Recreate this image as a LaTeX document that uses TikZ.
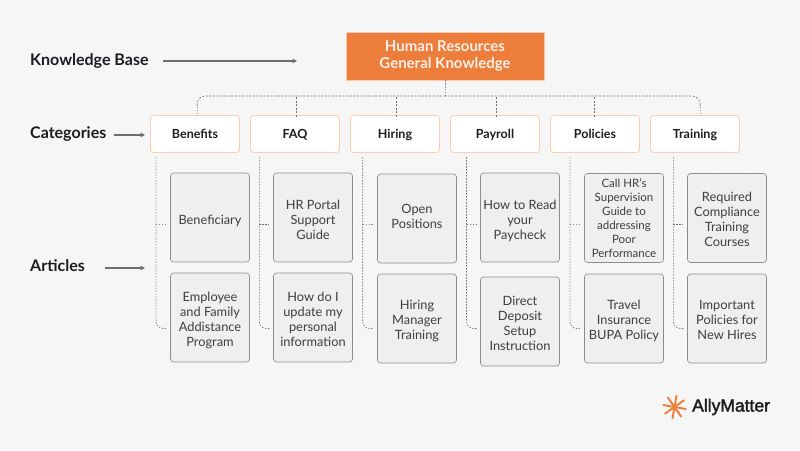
\documentclass[tikz,border=0pt]{standalone}
\usepackage{fontspec}
\setmainfont{Lato}
\newfontfamily\logofont[FakeBold=2]{Liberation Sans}
\usetikzlibrary{arrows.meta,calc}
\definecolor{bgc}{HTML}{F6F6F6}
\definecolor{dotc}{HTML}{EBEBEB}
\definecolor{orangec}{HTML}{ED7D3B}
\definecolor{peachc}{HTML}{FBCDB2}
\definecolor{artc}{HTML}{EFEFEF}
\definecolor{artl}{HTML}{8C8C8C}
\definecolor{linec}{HTML}{6E6E6E}
\definecolor{inkc}{HTML}{1C1C22}
\newcommand\lowertext[1]{\rule{0pt}{\dimexpr 9.2pt+2\dimexpr #1pt\relax\relax}}
\tikzset{
  rootbox/.style={fill=orangec,draw=white!60!orangec,line width=.6pt,minimum width=198pt,minimum height=48pt,align=center,text=white!88!orangec,font=\fontsize{15}{17}\selectfont\bfseries,inner sep=0pt},
  catbox/.style={fill=white,draw=peachc,line width=.9pt,rounded corners=3pt,minimum width=89pt,minimum height=37pt,inner sep=0pt,text=inkc,text height=10.5pt,text depth=1.5pt,font=\fontsize{12.5}{15}\selectfont\bfseries},
  artbox/.style={fill=artc,draw=artl,line width=.6pt,rounded corners=3pt,minimum width=79pt,minimum height=89pt,inner sep=0pt,align=center,text=inkc!85,font=\fontsize{12.8}{15}\selectfont},
  rowlabel/.style={anchor=west,inner sep=0pt,text=inkc,font=\fontsize{16}{18}\selectfont\bfseries},
  conn/.style={draw=linec,line width=.6pt,dash pattern=on 2pt off 1.6pt},
  lightconn/.style={draw=artl,line width=.95pt,dash pattern=on 1.4pt off 1.5pt},
  darkconn/.style={draw=linec,line width=.6pt,dash pattern=on 1.6pt off 1.4pt},
  pointer/.style={draw=linec,line width=1.2pt,-{Triangle[length=4.5pt,width=4.5pt]}}
}
\begin{document}
\begin{tikzpicture}[x=1pt,y=-1pt]
\useasboundingbox (0,0) rectangle (800,450);
\fill[bgc] (0,0) rectangle (800,450);
\foreach \i in {0,...,72}{\foreach \j in {0,...,40}{
  \fill[dotc] (5+11*\i,6+11*\j) circle (.5pt);}}
% root
\node[rootbox] (root) at (445,56) {Human Resources\\General Knowledge};
% categories
\node[catbox] (c1) at (195,134) {Benefits};
\node[catbox] (c2) at (295,134) {FAQ};
\node[catbox] (c3) at (395,134) {Hiring};
\node[catbox] (c4) at (495,134) {Payroll};
\node[catbox] (c5) at (595,134) {Policies};
\node[catbox] (c6) at (695,134) {Training};
% articles
\node[artbox] (a1) at (210,217.5) {\lowertext{3}Beneficiary};
\node[artbox] (b1) at (210,317.5) {\lowertext{3}Employee\\and Family\\Addistance\\Program};
\node[artbox] (a2) at (313,217.5) {\lowertext{2}HR Portal\\Support\\Guide};
\node[artbox] (b2) at (313,317.5) {\lowertext{2}How do I\\update my\\personal\\information};
\node[artbox] (a3) at (417,218.5) {Open\\Positions\rule[-3.5pt]{0pt}{3.5pt}};
\node[artbox] (b3) at (417,318.5) {\lowertext{3}Hiring\\Manager\\Training};
\node[artbox] (a4) at (520,217.5) {\lowertext{3}How to Read\\your\\Paycheck};
\node[artbox] (b4) at (520,321.5) {\lowertext{2}Direct\\Deposit\\Setup\\Instruction};
\node[artbox,font=\fontsize{11.5}{14}\selectfont] (a5) at (624,218) {Call HR's\\Supervision\\Guide to\\addressing\\Poor\\Performance};
\node[artbox] (b5) at (624,318.5) {\lowertext{2}Travel\\Insurance\\BUPA Policy};
\node[artbox] (a6) at (727,218) {\lowertext{1}Required\\Compliance\\Training\\Courses};
\node[artbox] (b6) at (727,318.5) {\lowertext{1.5}Important\\Policies for\\New Hires};
% row labels
\node[rowlabel] (kb) at (30,61) {Knowledge Base};
\node[rowlabel] (cat) at (30,134) {Categories};
\node[rowlabel] (art) at (30,266) {Articles};
\coordinate (kbstart) at (163,61);
\coordinate (kbend) at (297,61);
\coordinate (catstart) at (114,135);
\coordinate (catend) at (145,135);
\coordinate (artstart) at (105,268);
\coordinate (artend) at (145,268);
\draw[pointer] (kbstart) -- (kbend);
\draw[pointer] (catstart) -- (catend);
\draw[pointer] (artstart) -- (artend);
% bus
\coordinate (bus) at (445,96);
\coordinate (busL) at (197,114);
\coordinate (busR) at (700,114);
\draw[lightconn] (root.south) -- (bus);
\draw[lightconn] (busL) -- (197,105);
\draw[lightconn] (busR) -- (700,105);
\draw[conn,rounded corners=8pt] (197,105) |- (bus);
\draw[conn,rounded corners=8pt] (700,105) |- (bus);
\foreach \n/\dx in {c2/1,c3/1.5,c4/1.5,c5/-1}{
  \draw[conn] ([xshift=\dx pt,yshift=-2pt]\n.north) -- ([xshift=\dx pt]\n.north |- bus);
}
% article trees
\foreach \n/\x/\s in {1/156/lightconn,2/259.3/darkconn,3/362.7/lightconn,4/466.5/darkconn,5/570/lightconn,6/673.3/darkconn}{
  \coordinate (top\n) at (\x,157);
  \coordinate (mid\n) at (\x,224);
  \coordinate (midend\n) at (\x+10,224);
  \coordinate (botend\n) at (\x+10,328.5);
  \draw[\s,rounded corners=7pt] (top\n) |- (botend\n);
  \draw[\s] (mid\n) -- (midend\n);
}
% logo
\begin{scope}[shift={(674.5,407)}]
\foreach \a in {0,45,...,315}{
  \draw[orangec,line width=1.9pt] (0,0) -- (\a+10:12);
}
\end{scope}
\node[anchor=west,inner sep=0pt,text=inkc,font=\logofont\fontsize{17.5}{20}\selectfont] (logo) at (692,407) {AllyMatter};
\end{tikzpicture}
\end{document}
